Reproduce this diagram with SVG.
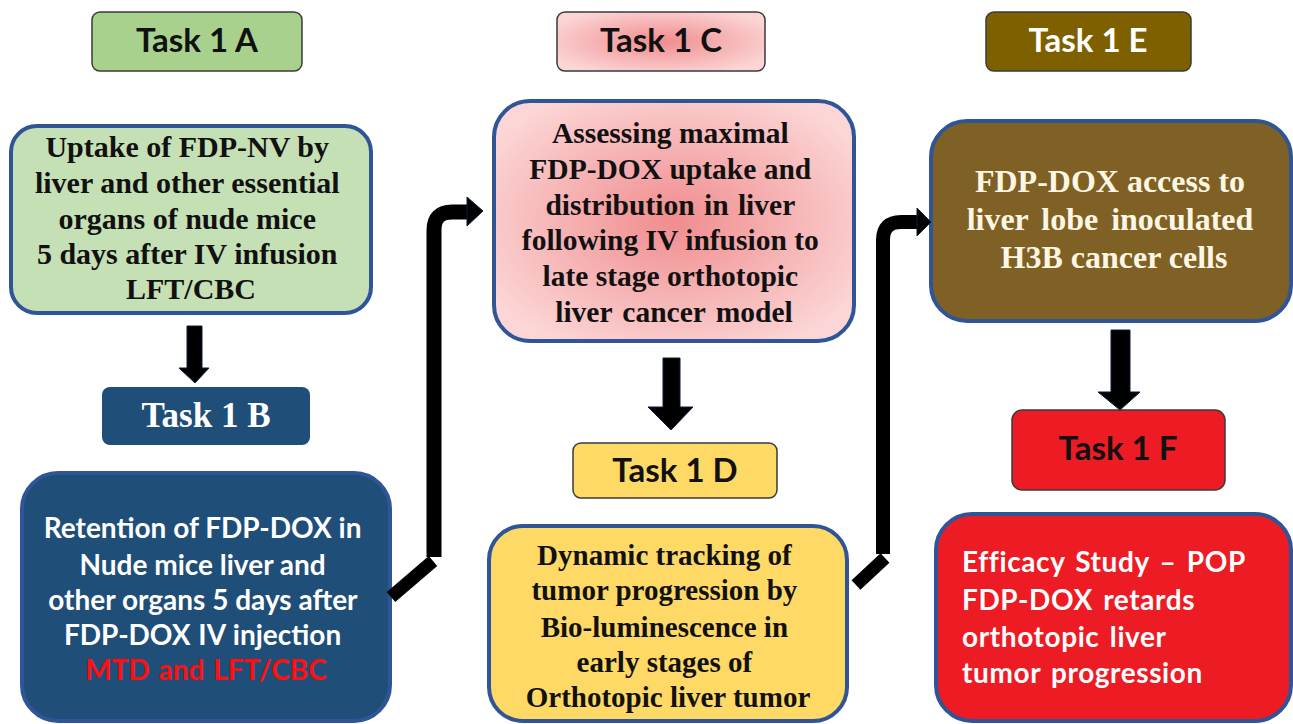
<svg xmlns="http://www.w3.org/2000/svg" width="1293" height="724" viewBox="0 0 1293 724">
<style>
.title{stroke:#3a3a3a;stroke-width:1.5}
.box{stroke:#2f5597;stroke-width:4}
.ts{font-family:Lato,"Liberation Sans",sans-serif;font-weight:bold;font-size:33px;text-anchor:middle}
.tr{font-family:"Liberation Serif","Times New Roman",serif;font-weight:bold}
.bs{font-family:Lato,"Liberation Sans",sans-serif;font-weight:bold;font-size:28px}
.arrow{fill:#000;stroke:#0d1b3e;stroke-width:1}
.line{fill:none;stroke:#000}
</style>
<defs>
<radialGradient id="pink" cx="50%" cy="50%" r="60%">
<stop offset="0" stop-color="#f08c8e"/>
<stop offset="1" stop-color="#fcd6d6"/>
</radialGradient>
</defs>
<rect width="1293" height="724" fill="#fff"/>

<g id="task1A">
<rect class="title" x="92" y="12" width="210" height="59" rx="8" fill="#a9d18e"/>
<text class="ts" x="197" y="52" fill="#111">Task 1 A</text>
</g>
<g id="boxA">
<rect class="box" x="11" y="126" width="360" height="187" rx="26" fill="#c5e0b4"/>
<text class="tr" font-size="30" text-anchor="middle" fill="#111">
<tspan x="191" y="157">Uptake of FDP-NV by</tspan>
<tspan x="191" y="193">liver and other essential</tspan>
<tspan x="191" y="229">organs of nude mice</tspan>
<tspan x="191" y="264">5 days after IV infusion</tspan>
<tspan x="191" y="299">LFT/CBC</tspan>
</text>
</g>

<g id="task1B">
<rect x="102" y="387" width="208" height="58" rx="8" fill="#1f4e79"/>
<text class="tr" font-size="35" x="206" y="427" text-anchor="middle" fill="#fff">Task 1 B</text>
</g>
<g id="boxB">
<rect class="box" x="22" y="473" width="368" height="248" rx="36" fill="#1f4e79" stroke="#1b3f66"/>
<text class="bs" text-anchor="middle" fill="#fff">
<tspan x="206" y="538">Retention of FDP-DOX in</tspan>
<tspan x="206" y="575">Nude mice liver and</tspan>
<tspan x="206" y="610">other organs 5 days after</tspan>
<tspan x="206" y="645" word-spacing="1">FDP-DOX IV injection</tspan>
<tspan x="206" y="680" fill="#ff1010" word-spacing="2">MTD and LFT/CBC</tspan>
</text>
</g>

<g id="task1C">
<rect class="title" x="557" y="12" width="208" height="59" rx="8" fill="url(#pink)"/>
<text class="ts" x="661" y="52" fill="#111">Task 1 C</text>
</g>
<g id="boxC">
<rect class="box" x="494" y="101" width="360" height="240" rx="36" fill="url(#pink)"/>
<text class="tr" font-size="29.5" text-anchor="middle" fill="#111">
<tspan x="674" y="143">Assessing maximal</tspan>
<tspan x="674" y="179">FDP-DOX uptake and</tspan>
<tspan x="674" y="215" word-spacing="2">distribution in liver</tspan>
<tspan x="674" y="250">following IV infusion to</tspan>
<tspan x="674" y="286">late stage orthotopic</tspan>
<tspan x="674" y="322" word-spacing="3">liver cancer model</tspan>
</text>
</g>

<g id="task1D">
<rect class="title" x="573" y="443" width="204" height="55" rx="8" fill="#ffd966"/>
<text class="ts" x="675" y="482" fill="#111">Task 1 D</text>
</g>
<g id="boxD">
<rect class="box" x="489" y="526" width="358" height="195" rx="34" fill="#ffd966"/>
<text class="tr" font-size="29" text-anchor="middle" fill="#111">
<tspan x="668" y="565">Dynamic tracking of</tspan>
<tspan x="668" y="600">tumor progression by</tspan>
<tspan x="668" y="637">Bio-luminescence in</tspan>
<tspan x="668" y="672">early stages of</tspan>
<tspan x="668" y="707">Orthotopic liver tumor</tspan>
</text>
</g>

<g id="task1E">
<rect class="title" x="986" y="12" width="205" height="59" rx="8" fill="#7f6000"/>
<text class="ts" x="1088" y="52" fill="#fff">Task 1 E</text>
</g>
<g id="boxE">
<rect class="box" x="931" y="121" width="360" height="200" rx="36" fill="#7f6126"/>
<text class="tr" font-size="32" text-anchor="middle" fill="#fdf6e3">
<tspan x="1114" y="192">FDP-DOX access to</tspan>
<tspan x="1114" y="230" word-spacing="5">liver lobe inoculated</tspan>
<tspan x="1114" y="268">H3B cancer cells</tspan>
</text>
</g>

<g id="task1F">
<rect class="title" x="1012" y="410" width="213" height="80" rx="10" fill="#ed1c24"/>
<text class="ts" x="1118" y="460" fill="#111">Task 1 F</text>
</g>
<g id="boxF">
<rect class="box" x="936" y="514" width="355" height="207" rx="36" fill="#ed1c24"/>
<text class="bs" font-size="30" fill="#fff" letter-spacing="0.6" word-spacing="3">
<tspan x="962" y="572">Efficacy Study – POP</tspan>
<tspan x="962" y="610">FDP-DOX retards</tspan>
<tspan x="962" y="647">orthotopic liver</tspan>
<tspan x="962" y="683">tumor progression</tspan>
</text>
</g>

<g id="connectors">
<polygon class="arrow" points="187,326 202,326 202,368 209,368 195,383 179,368 187,368"/>
<polygon class="arrow" points="663,358 680,358 680,407 693,407 671,430 648,407 663,407"/>
<polygon class="arrow" points="1111,330 1130,330 1130,392 1140,392 1120,410 1098,392 1111,392"/>
<line class="line" x1="391" y1="597" x2="433" y2="561" stroke-width="13"/>
<path class="line" d="M434,557 V230 Q434,212 452,212 H470" stroke-width="15"/>
<polygon class="arrow" points="467,197 483,211 467,226"/>
<line class="line" x1="856" y1="585" x2="885" y2="558" stroke-width="13"/>
<path class="line" d="M883,554 V240 Q883,222 901,222 H919" stroke-width="14"/>
<polygon class="arrow" points="917,208 931,222 917,236"/>
</g>
</svg>
